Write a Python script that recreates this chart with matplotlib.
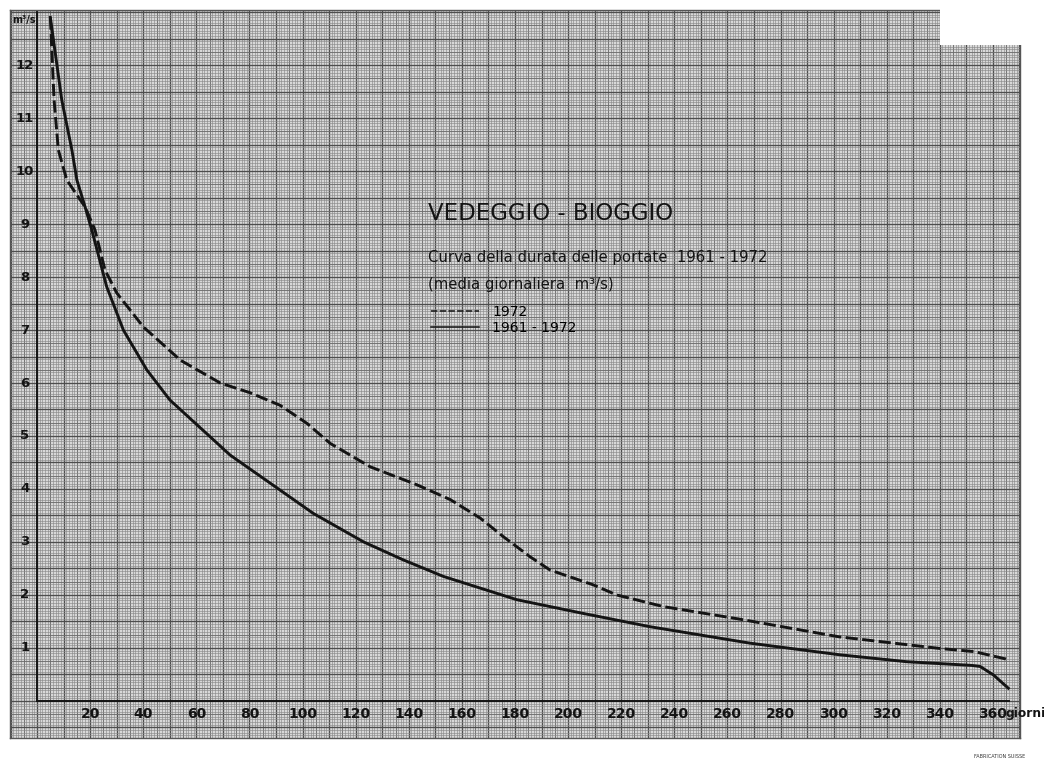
import numpy as np
import matplotlib.pyplot as plt
from matplotlib.patches import Rectangle

# durata delle portate, giorni / m3/s
days_1972 = [5, 6.4, 8, 11.2, 15, 18.1, 21.8, 25.6, 30, 40, 54, 69, 80, 91.5,
             101.6, 110.4, 125.4, 143, 155.6, 166.9, 175.6, 185.7, 193.2,
             209.5, 218.3, 235.9, 265, 302, 340, 353, 365]
q_1972 = [12.9, 11.34, 10.4, 9.83, 9.55, 9.32, 8.89, 8.13, 7.7, 7.06, 6.43,
          6.0, 5.82, 5.58, 5.24, 4.86, 4.42, 4.08, 3.8, 3.45, 3.1, 2.72, 2.47,
          2.19, 2.0, 1.78, 1.54, 1.21, 0.99, 0.93, 0.79]

days_6172 = [5, 9.3, 13.1, 15, 18.1, 20.6, 26.2, 32.5, 41.3, 50, 58.3, 72.7,
             87.8, 104, 123, 138, 153, 180.7, 205.8, 230.9, 268.5, 302.4,
             327.5, 352, 355.2, 360.2, 365.8]
q_6172 = [12.9, 11.34, 10.4, 9.83, 9.32, 8.89, 7.82, 7.0, 6.25, 5.68, 5.3,
          4.64, 4.11, 3.54, 3.0, 2.66, 2.35, 1.91, 1.65, 1.4, 1.09, 0.87,
          0.74, 0.67, 0.65, 0.49, 0.24]

x_ticks = list(range(20, 361, 20))
y_ticks = list(range(1, 13))

XMIN, XMAX = -10.2, 370.2
YMIN, YMAX = -0.70, 13.04
ink = '#141414'

fig = plt.figure(figsize=(10.44, 7.65), dpi=100, facecolor='white')
ax = fig.add_axes([10 / 1044, 27 / 765, 1010 / 1044, 728 / 765])
ax.set_xlim(XMIN, XMAX)
ax.set_ylim(YMIN, YMAX)
ax.set_facecolor('#d8d8d8')

# graph paper: fine, medium and bold rulings
def ruling(k):
    if k % 10 == 0:
        return '#4e4e4e', 0.95
    if k % 5 == 0:
        return '#6e6e6e', 0.65
    return '#8a8a8a', 0.45

for v in np.arange(-10, 371, 1):
    c, w = ruling(int(v))
    ax.axvline(v, color=c, lw=w, zorder=0)
for v in np.arange(-0.70, 13.05, 0.05):
    c, w = ruling(int(round(v * 20)))
    ax.axhline(v, color=c, lw=w, zorder=0)

# cut corner of the sheet (top right)
ax.add_patch(Rectangle((0.921, 0.952), 0.09, 0.06,
                       transform=ax.transAxes, facecolor='white',
                       edgecolor='none', zorder=3, clip_on=False))

# main axes of the chart
ax.plot([0, 0], [0, YMAX], color=ink, lw=1.4, zorder=2)
ax.plot([0, 366], [0, 0], color=ink, lw=1.4, zorder=2)

ax.plot(days_1972, q_1972, color=ink, lw=2.1, ls=(0, (4.2, 1.5)),
        label='1972', zorder=4)
ax.plot(days_6172, q_6172, color=ink, lw=2.1, label='1961 - 1972', zorder=4)

for t in x_ticks:
    ax.text(t, -0.24, str(t), ha='center', va='center', fontsize=10,
            fontweight='bold', color=ink)
for t in y_ticks:
    ax.text(-4.6, t, str(t), ha='center', va='center', fontsize=9.5,
            fontweight='bold', color=ink)
ax.text(364.8, -0.24, 'giorni', ha='left', va='center', fontsize=8.8,
        fontweight='bold', color=ink)
ax.text(-9.5, 12.86, 'm³/s', ha='left', va='center', fontsize=7,
        fontweight='bold', color=ink)

ax.text(147.3, 9.2, 'VEDEGGIO - BIOGGIO', ha='left', va='center',
        fontsize=16.5, color=ink)
ax.text(147.3, 8.36, 'Curva della durata delle portate  1961 - 1972',
        ha='left', va='center', fontsize=10.7, color=ink)
ax.text(147.3, 7.85, '(media giornaliera  m³/s)', ha='left', va='center',
        fontsize=10.7, color=ink)

leg = ax.legend(loc='upper left', bbox_to_anchor=(148.5, 7.47),
                bbox_transform=ax.transData, frameon=False, fontsize=10,
                handlelength=3.4, handletextpad=1.0, labelspacing=0.15,
                borderpad=0, borderaxespad=0)
for line in leg.get_lines():
    line.set_linewidth(1.1)

ax.set_xticks([])
ax.set_yticks([])
for s in ax.spines.values():
    s.set_color('#555555')
    s.set_linewidth(1.0)

fig.text(1000 / 1044, 8 / 765, 'FABRICATION SUISSE', ha='center',
         va='center', fontsize=3.5, color='#333333')

plt.savefig('out.png', dpi=100)
